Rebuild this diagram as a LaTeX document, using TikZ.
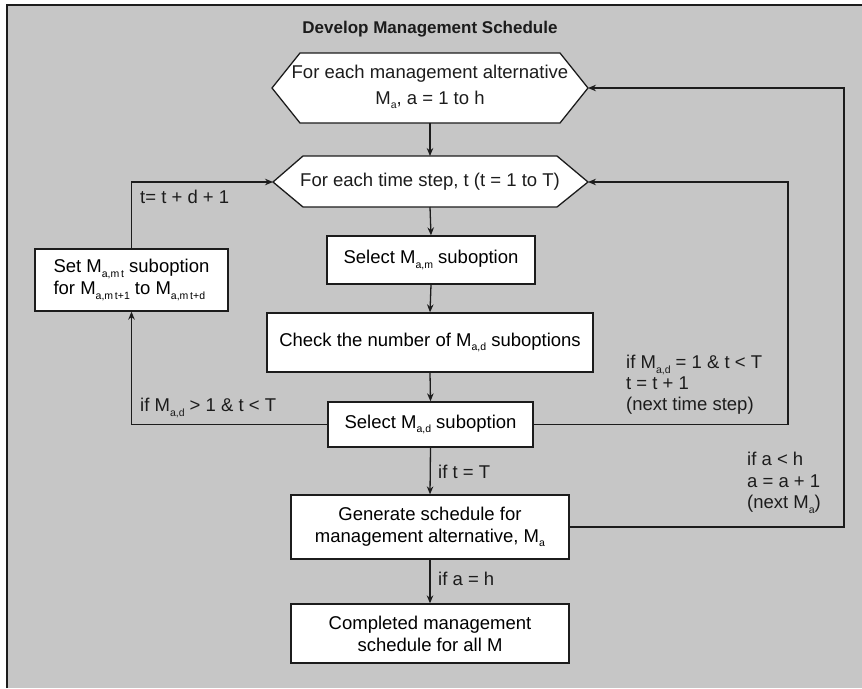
\documentclass[tikz,border=0pt]{standalone}
\usepackage{fontspec}
\setmainfont{Liberation Sans}
\usetikzlibrary{arrows.meta}
% small lowered index used for the M subscripts
\newcommand\idx[1]{\raisebox{-0.25em}{\fontsize{10.5}{10.5}\selectfont #1}}
\definecolor{panelgrey}{HTML}{C6C6C6}
\definecolor{inkline}{HTML}{1C1C1C}
\begin{document}
\begin{tikzpicture}[x=1pt,y=-1pt,
  font=\fontsize{18.5}{22}\selectfont,
  stepbox/.style={draw=inkline, fill=white, line width=1.3pt, align=center, inner sep=0pt},
  hexbox/.style={draw=inkline, fill=white, line width=1.3pt, line join=miter},
  flow/.style={draw=inkline, line width=1.3pt, -{Stealth[length=8pt,width=6.5pt]}},
  lbl/.style={anchor=west, inner sep=0pt, align=left, text=inkline}]
\useasboundingbox (0,0) rectangle (862,688);
\fill[white] (0,0) rectangle (862,688);
\fill[panelgrey] (7,5) rectangle (862,688);
\draw[inkline, line width=1.5pt] (7,688) -- (7,5) -- (862,5);

\node[inner sep=0pt, font=\fontsize{17}{20}\selectfont\bfseries, text=inkline] (title) at (430,29) {Develop Management Schedule};

% outer loop hexagon
\coordinate (altW) at (272,88);
\coordinate (altE) at (588,88);
\coordinate (altN) at (430,53);
\coordinate (altS) at (430,123);
\filldraw[hexbox] (altW) -- (300,53) -- (560,53) -- (altE) -- (560,123) -- (300,123) -- cycle;
\node[inner sep=0pt, align=center, text=inkline, font=\fontsize{18.5}{26}\selectfont] (alt) at (430,87) {For each management alternative\\M\idx{a}, a = 1 to h};

% time step hexagon
\coordinate (tsW) at (273,182);
\coordinate (tsE) at (588,182);
\coordinate (tsN) at (430,156);
\coordinate (tsS) at (430,207);
\filldraw[hexbox] (tsW) -- (303,156) -- (557,156) -- (tsE) -- (557,207) -- (303,207) -- cycle;
\node[inner sep=0pt, text=inkline] (ts) at (430,182) {For each time step, t (t = 1 to T)};

% process boxes
\node[stepbox, minimum width=208pt, minimum height=48pt] (selm) at (431,260) {Select M\idx{a,m} suboption};
\node[stepbox, minimum width=326pt, minimum height=59pt] (chk) at (430,342.5) {Check the number of M\idx{a,d} suboptions};
\node[stepbox, minimum width=205pt, minimum height=45pt] (seld) at (430.5,424.5) {Select M\idx{a,d} suboption};
\node[stepbox, minimum width=278pt, minimum height=64pt] (gen) at (430,527) {Generate schedule for\\management alternative, M\idx{a}};
\node[stepbox, minimum width=278pt, minimum height=59pt] (done) at (430,633.5) {Completed management\\schedule for all M};
\node[stepbox, minimum width=193pt, minimum height=62pt, align=left] (setb) at (131.5,280) {Set M\idx{a,m\,t} suboption\\for M\idx{a,m\,t+1} to M\idx{a,m\,t+d}};

% main sequence
\draw[flow] (altS) -- (tsN);
\draw[flow] (tsS) -- (selm.north);
\draw[flow] (selm.south) -- (chk.north);
\draw[flow] (chk.south) -- (seld.north);
\draw[flow] (seld.south) -- (gen.north);
\draw[flow] (gen.south) -- (done.north);

% loops
\coordinate (loopT) at (788,182);
\coordinate (loopA) at (844,88);
\draw[flow] (seld.west) -| (setb.south);
\draw[flow] (setb.north) |- (tsW);
\draw[flow] (seld.east) -| (loopT) -- (tsE);
\draw[flow] (gen.east) -| (loopA) -- (altE);

% branch labels
\node[lbl] (lset) at (140,197) {t= t + d + 1};
\node[lbl] (lmore) at (140,408) {if M\idx{a,d} > 1 \& t < T};
\node[lbl, font=\fontsize{18.5}{21}\selectfont] (lone) at (626,385) {if M\idx{a,d} = 1 \& t < T\\t = t + 1\\(next time step)};
\node[lbl] (lend) at (438,472) {if t = T};
\node[lbl, font=\fontsize{18.5}{21.5}\selectfont] (lnext) at (747,483) {if a < h\\a = a + 1\\(next M\idx{a})};
\node[lbl] (ldone) at (438,579) {if a = h};
\end{tikzpicture}
\end{document}
